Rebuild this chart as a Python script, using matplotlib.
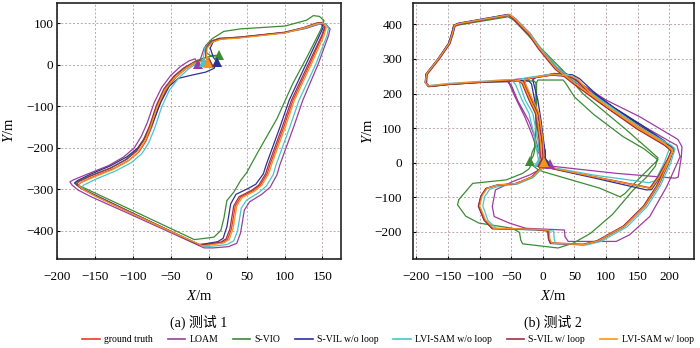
import numpy as np
import matplotlib
matplotlib.use("Agg")
import matplotlib.pyplot as plt
from matplotlib.lines import Line2D

plt.rcParams['font.family'] = ['Liberation Serif', 'Noto Sans CJK SC']
plt.rcParams['mathtext.fontset'] = 'custom'
plt.rcParams['mathtext.rm'] = 'Liberation Serif'
plt.rcParams['mathtext.it'] = 'Liberation Serif:italic'

series_names = ['ground truth', 'LOAM', 'S-VIO', 'S-VIL w/o loop',
                'LVI-SAM w/o loop', 'S-VIL w/ loop', 'LVI-SAM w/ loop']
series_colors = ['#e63b2e', '#9b3d9e', '#3c8b35', '#2e3192',
                 '#4cc3c8', '#a3303c', '#f7941d']

# ---------------- Test 1 trajectories (x, y in m) ----------------
t1_gt = [(0,5),(-4,18),(-3,40),(4,55),(15,62),(40,65),(100,77),(125,88),(142,99),(150,100),(154,90),(150,70),(133,0),(111,-86),(99,-150),(81,-240),(77,-263),(68,-290),(59,-303),(42,-319),(35,-340),(30,-395),(25,-420),(18,-428),(0,-433),(-10,-435),(-60,-392),(-110,-350),(-150,-315),(-167,-299),(-172,-290),(-168,-283),(-150,-268),(-125,-250),(-105,-230),(-92,-210),(-83,-185),(-75,-150),(-66,-100),(-56,-60),(-43,-30),(-30,-10),(-18,4),(-8,10),(0,5)]
t1_loam = [(-14,2),(-10,18),(-6,40),(2,56),(14,63),(40,66),(100,77),(128,87),(145,97),(154,98),(160,86),(158,70),(144,0),(124,-86),(112,-150),(94,-240),(90,-265),(81,-295),(70,-312),(54,-330),(47,-350),(42,-405),(37,-430),(26,-438),(6,-441),(-6,-441),(-60,-396),(-112,-353),(-155,-318),(-172,-302),(-180,-290),(-183,-282),(-178,-277),(-158,-262),(-132,-243),(-112,-222),(-98,-200),(-89,-173),(-81,-140),(-72,-92),(-62,-55),(-50,-26),(-37,-4),(-26,9),(-18,14),(-14,2)]
t1_svio = [(14,22),(2,22),(-4,30),(-4,46),(5,63),(20,80),(42,86),(101,93),(129,107),(138,118),(146,116),(152,106),(148,85),(130,20),(111,-45),(90,-130),(65,-210),(50,-260),(42,-279),(33,-307),(24,-327),(20,-370),(16,-399),(7,-415),(-5,-418),(-19,-421),(-90,-360),(-165,-296),(-174,-289),(-175,-283),(-157,-268),(-131,-250),(-110,-229),(-96,-207),(-86,-180),(-77,-145),(-68,-97),(-57,-57),(-44,-26),(-30,-6),(-18,8),(-8,15),(2,20),(14,22)]
t1_svil_nl = [(11,6),(6,18),(2,40),(6,55),(16,62),(40,65),(100,77),(125,88),(142,99),(148,100),(151,90),(146,70),(128,0),(106,-86),(94,-150),(76,-240),(72,-263),(62,-288),(52,-298),(36,-312),(29,-335),(24,-390),(19,-418),(12,-426),(-4,-431),(-14,-433),(-64,-389),(-114,-345),(-154,-310),(-171,-294),(-177,-285),(-173,-279),(-155,-263),(-130,-244),(-108,-222),(-93,-200),(-82,-172),(-73,-137),(-63,-90),(-52,-52),(-40,-33),(-24,-26),(-4,-18),(7,-9),(11,6)]
t1_lvi_nl = [(-6,6),(-7,18),(-5,40),(3,56),(14,63),(40,66),(100,77),(127,88),(144,98),(153,99),(158,88),(156,70),(141,0),(119,-86),(107,-150),(89,-240),(85,-265),(76,-292),(66,-308),(50,-326),(43,-345),(38,-400),(33,-424),(24,-433),(4,-437),(-6,-438),(-58,-395),(-108,-352),(-148,-318),(-162,-304),(-167,-296),(-165,-290),(-148,-275),(-123,-256),(-102,-236),(-88,-214),(-79,-188),(-71,-152),(-62,-102),(-52,-62),(-39,-31),(-27,-11),(-16,3),(-9,8),(-6,6)]
t1_svil_l = [(0,6),(-4,19),(-3,41),(3,56),(14,63),(40,66),(100,78),(125,89),(142,100),(149,101),(153,91),(149,70),(131,0),(109,-86),(97,-150),(79,-240),(75,-263),(66,-290),(57,-302),(40,-318),(33,-340),(28,-395),(23,-419),(16,-427),(-2,-432),(-12,-434),(-62,-391),(-112,-348),(-152,-313),(-169,-297),(-174,-288),(-171,-281),(-153,-266),(-128,-248),(-108,-228),(-95,-208),(-86,-183),(-78,-148),(-69,-98),(-59,-58),(-46,-28),(-33,-8),(-20,5),(-9,11),(0,6)]
t1_lvi_l = [(-1,4),(-3,18),(-2,40),(5,54),(16,61),(40,64),(100,76),(125,88),(142,98),(151,100),(155,89),(152,70),(135,0),(113,-86),(101,-150),(83,-240),(79,-263),(70,-290),(61,-304),(44,-320),(37,-340),(32,-395),(27,-421),(20,-429),(2,-434),(-8,-436),(-60,-393),(-110,-351),(-150,-316),(-165,-301),(-171,-292),(-170,-285),(-152,-271),(-127,-253),(-107,-233),(-94,-212),(-85,-187),(-77,-152),(-68,-102),(-58,-62),(-45,-32),(-32,-12),(-20,3),(-9,9),(-1,4)]

# ---------------- Test 2 trajectories (x, y in m) ----------------
t2_gt = [(0,0),(-3,17),(-5,66),(-11,143),(-21,181),(-32,229),(-38,237),(-50,239),(-100,233),(-150,227),(-180,221),(-185,230),(-184,256),(-165,300),(-148,345),(-143,374),(-140,396),(-133,401),(-53,427),(-44,414),(-22,372),(-6,330),(20,272),(47,232),(90,175),(150,98),(200,44),(205,36),(197,-2),(181,-66),(160,-125),(128,-183),(86,-226),(64,-236),(13,-232),(10,-221),(9,-197),(-11,-193),(-79,-190),(-92,-165),(-101,-125),(-97,-96),(-89,-74),(-73,-65),(-42,-60),(-17,-41),(-4,-17),(5,-12),(80,-40),(160,-69),(170,-73),(183,-40),(198,10),(204,34),(190,58),(150,104),(106,156),(79,193),(54,240),(43,250),(15,254),(-20,244),(-30,238),(-27,222),(-17,181),(-7,143),(-1,66),(1,17),(1,2)]
t2_loam = [(12,-3),(2,10),(-5,27),(-13,75),(-22,120),(-40,180),(-50,225),(-56,234),(-100,232),(-150,226),(-181,220),(-186,232),(-185,256),(-166,300),(-149,345),(-144,374),(-141,398),(-134,403),(-55,429),(-45,416),(-23,374),(-7,332),(20,275),(48,236),(95,178),(150,115),(200,62),(212,50),(217,17),(196,-69),(169,-156),(137,-209),(116,-228),(40,-228),(35,-214),(34,-195),(-27,-190),(-53,-175),(-77,-156),(-80,-127),(-75,-79),(-48,-55),(-20,-35),(0,-15),(12,-10),(116,-31),(209,-45),(214,-42),(219,17),(220,46),(214,66),(211,70),(153,133),(100,181),(47,244),(30,255),(15,256),(-20,245),(-48,240),(-54,232),(-44,190),(-28,130),(-17,80),(-8,30),(12,-3)]
t2_svio = [(-20,5),(-17,30),(-13,46),(-11,123),(-11,231),(-14,236),(-30,237),(-100,232),(-150,226),(-181,220),(-186,232),(-184,256),(-165,300),(-149,343),(-144,372),(-141,394),(-134,398),(-55,422),(-46,412),(-21,364),(5,316),(30,270),(63,200),(132,95),(182,14),(178,-10),(165,-40),(143,-79),(110,-150),(75,-205),(48,-233),(24,-247),(-32,-235),(-35,-224),(-37,-202),(-48,-190),(-101,-175),(-122,-155),(-135,-122),(-133,-107),(-111,-60),(-58,-50),(-32,-31),(-22,-18),(-18,-5),(-8,-20),(0,-26),(90,-74),(122,-99),(130,-89),(150,-50),(182,8),(160,40),(127,75),(80,140),(50,190),(36,230),(32,239),(10,239),(-8,239),(-10,231),(-10,123),(-12,46),(-15,20),(-20,5)]
t2_svil_nl = [(4,5),(3,37),(-3,80),(-10,123),(-13,181),(-18,228),(-22,236),(-40,238),(-100,233),(-150,227),(-181,221),(-186,231),(-185,256),(-166,300),(-149,346),(-144,375),(-141,397),(-134,403),(-53,429),(-43,416),(-21,375),(-5,334),(22,276),(50,240),(95,180),(155,105),(203,47),(207,38),(199,-2),(183,-66),(162,-125),(129,-185),(87,-228),(65,-238),(12,-234),(9,-222),(8,-197),(-12,-194),(-80,-191),(-93,-166),(-102,-126),(-98,-97),(-90,-75),(-74,-66),(-43,-61),(-17,-43),(-3,-18),(6,-14),(80,-44),(164,-79),(172,-78),(185,-42),(199,10),(206,35),(193,62),(155,110),(112,160),(85,197),(58,243),(47,254),(18,258),(-10,248),(-16,240),(-14,225),(-8,181),(-3,123),(1,66),(3,37),(4,5)]
t2_lvi_nl = [(-6,3),(-8,17),(-12,66),(-22,143),(-33,181),(-43,225),(-48,236),(-58,240),(-100,235),(-150,229),(-180,223),(-185,232),(-183,257),(-164,301),(-147,346),(-142,375),(-139,397),(-132,402),(-52,428),(-43,415),(-20,374),(-4,332),(23,275),(50,237),(93,180),(153,103),(203,50),(209,40),(202,-2),(186,-66),(165,-127),(133,-186),(92,-228),(70,-238),(20,-234),(18,-222),(17,-198),(-5,-195),(-73,-192),(-87,-167),(-95,-125),(-92,-98),(-84,-77),(-69,-68),(-40,-62),(-15,-43),(-2,-18),(6,-11),(80,-36),(168,-58),(178,-52),(192,0),(200,40),(186,62),(148,110),(104,160),(77,197),(53,244),(40,254),(15,256),(-25,246),(-38,240),(-36,225),(-28,181),(-16,143),(-8,66),(-5,17),(-6,3)]
t2_svil_l = [(-1,1),(-4,17),(-6,66),(-12,143),(-22,181),(-33,229),(-39,237),(-51,238),(-100,232),(-150,226),(-179,220),(-184,229),(-183,255),(-164,299),(-147,344),(-142,373),(-139,395),(-132,400),(-54,426),(-45,413),(-23,371),(-7,329),(19,271),(46,231),(89,174),(149,97),(199,43),(204,35),(196,-3),(180,-67),(159,-126),(127,-184),(85,-227),(63,-237),(12,-233),(9,-222),(8,-198),(-12,-194),(-80,-191),(-93,-166),(-102,-126),(-98,-97),(-90,-75),(-74,-66),(-43,-61),(-18,-42),(-5,-18),(4,-13),(79,-41),(159,-70),(169,-74),(182,-41),(197,9),(203,33),(189,57),(149,103),(105,155),(78,192),(53,239),(42,249),(14,253),(-21,243),(-31,237),(-28,221),(-18,180),(-8,142),(-2,65),(0,17),(0,1)]
t2_lvi_l = [(1,1),(-2,17),(-4,66),(-10,143),(-20,181),(-31,229),(-37,237),(-49,240),(-100,234),(-150,228),(-181,222),(-186,231),(-184,257),(-165,301),(-148,346),(-143,375),(-140,397),(-133,402),(-52,428),(-43,414),(-21,372),(-5,330),(21,272),(48,233),(91,176),(151,99),(201,45),(206,37),(198,-2),(182,-67),(161,-126),(129,-184),(87,-227),(65,-237),(14,-233),(11,-221),(10,-196),(-10,-193),(-78,-190),(-91,-165),(-100,-125),(-96,-96),(-88,-74),(-72,-65),(-41,-60),(-16,-41),(-3,-17),(6,-12),(81,-41),(161,-71),(171,-75),(184,-42),(199,9),(205,34),(191,58),(151,104),(107,156),(80,193),(55,241),(44,251),(15,255),(-20,245),(-29,239),(-26,222),(-16,181),(-6,143),(0,66),(2,17),(2,2)]

t1_series = [t1_gt, t1_loam, t1_svio, t1_svil_nl, t1_lvi_nl, t1_svil_l, t1_lvi_l]
t2_series = [t2_gt, t2_loam, t2_svio, t2_svil_nl, t2_lvi_nl, t2_svil_l, t2_lvi_l]

t1_xticks = [-200, -150, -100, -50, 0, 50, 100, 150]
t1_yticks = [-400, -300, -200, -100, 0, 100]
t2_xticks = [-200, -150, -100, -50, 0, 50, 100, 150, 200]
t2_yticks = [-200, -100, 0, 100, 200, 300, 400]

captions = ['(a) 测试 1', '(b) 测试 2']

fig = plt.figure(figsize=(7.0, 3.48), dpi=100)
ax1 = fig.add_axes([0.0814, 0.2566, 0.4053, 0.7356])
ax2 = fig.add_axes([0.5904, 0.2566, 0.4010, 0.7339])

def fmt(v):
    return ('\u2212%d' % -v) if v < 0 else '%d' % v

def draw(ax, series, xlim, ylim, xticks, yticks, ypad, ylab_x):
    for data, col in zip(series, series_colors):
        arr = np.array(data, dtype=float)
        ax.plot(arr[:, 0], arr[:, 1], color=col, lw=0.9, solid_joinstyle='round')
    for data, col in zip(series, series_colors):
        arr = np.array(data, dtype=float)
        ax.plot(arr[0, 0], arr[0, 1], marker='^', ms=6.5, color=col,
                markeredgewidth=0, zorder=5)
    ax.set_xlim(*xlim)
    ax.set_ylim(*ylim)
    ax.set_xticks(xticks)
    ax.set_yticks(yticks)
    ax.set_xticklabels([fmt(v) for v in xticks])
    ax.set_yticklabels([fmt(v) for v in yticks])
    ax.grid(True, linestyle=(0, (2, 2)), color='#b8a8a8', lw=0.7)
    ax.set_axisbelow(True)
    ax.tick_params(labelsize=9.5, direction='in', length=2.5, width=0.8)
    ax.tick_params(axis='x', pad=8.5)
    ax.tick_params(axis='y', pad=ypad)
    for s in ax.spines.values():
        s.set_linewidth(1.2)
        s.set_color('#222222')
    ax.set_xlabel(r'$\mathit{X}$/m', fontsize=10.5)
    ax.set_ylabel(r'$\mathit{Y}$/m', fontsize=10.5)
    ax.xaxis.set_label_coords(0.5, -0.118)
    ax.yaxis.set_label_coords(ylab_x, 0.5)

draw(ax1, t1_series, (-198, 174), (-467, 149), t1_xticks, t1_yticks, 2.5, -0.145)
draw(ax2, t2_series, (-205, 239), (-278, 461), t2_xticks, t2_yticks, 8.0, -0.136)

fig.text(199 / 700, 1 - 322 / 348, captions[0], ha='center', va='center', fontsize=10)
fig.text(553 / 700, 1 - 322 / 348, captions[1], ha='center', va='center', fontsize=10)

handles = [Line2D([0], [0], color=c, lw=1.2) for c in series_colors]
fig.legend(handles, series_names, loc='center', ncol=7,
           bbox_to_anchor=(388 / 700, 1 - 340 / 348), frameon=False,
           fontsize=7, handlelength=1.8, handletextpad=0.45, columnspacing=1.5,
           borderpad=0, borderaxespad=0)

fig.savefig('out.png', dpi=100)
